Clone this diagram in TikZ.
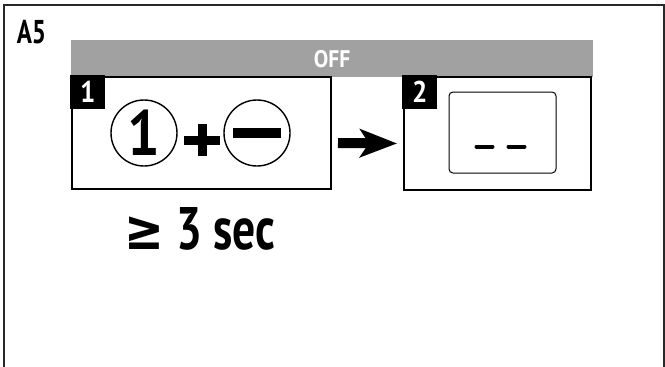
\documentclass[tikz,border=0pt]{standalone}
\usepackage{fontspec}
\setmainfont{PT Sans}
\newfontfamily\condfont[FakeStretch=0.76]{PT Sans}
\newfontfamily\labelfont[FakeStretch=0.9]{PT Sans}
\newfontfamily\symfont[FakeStretch=0.85]{DejaVu Sans}
\usetikzlibrary{arrows.meta,positioning}
\definecolor{bandgray}{RGB}{161,161,161}
\definecolor{framegray}{RGB}{40,40,40}
\tikzset{
  stepbox/.style={draw=black, line width=2pt, inner sep=0pt},
  steptag/.style={fill=black, text=white, inner sep=0pt, minimum width=35pt, minimum height=34pt, font=\labelfont\bfseries\fontsize{30}{30}\selectfont},
  keyring/.style={draw=black, circle, line width=1.4pt, minimum size=66pt, inner sep=0pt},
  bigarrow/.style={line width=10pt, -{Stealth[length=37pt, width=28pt, inset=9pt]}}
}
\begin{document}
\begin{tikzpicture}[x=1pt, y=-1pt]
  \useasboundingbox (0,0) rectangle (665,367);
  \draw[framegray, line width=1.3pt] (4,367) -- (4,5) -- (664,5) -- (664,367);
  \node[font=\condfont\bfseries\fontsize{33}{33}\selectfont] (title) at (31.5,32) {A5};
  % grey band
  \node[fill=bandgray, text=white, anchor=north west, minimum width=522pt, minimum height=37pt, inner sep=0pt, font=\labelfont\bfseries\fontsize{24}{24}\selectfont] (offbar) at (71,40) {OFF};
  % step 1
  \node[stepbox, minimum width=259pt, minimum height=112pt] (step1) at (201.5,133) {};
  \node[steptag, anchor=north west] (tag1) at ([xshift=-1pt,yshift=1pt]step1.north west) {1};
  \node[keyring, font=\labelfont\bfseries\fontsize{64}{64}\selectfont] (keyone) at (144,133) {\raisebox{-2pt}{1}};
  \node[keyring] (keyminus) at (257,133) {};
  \draw[line width=10pt] ([xshift=-24pt]keyminus.center) -- ([xshift=24pt]keyminus.center);
  \coordinate (plus) at (202,140);
  \draw[line width=9pt] ([xshift=-18pt]plus) -- ([xshift=18pt]plus);
  \draw[line width=9pt] ([yshift=-16pt]plus) -- ([yshift=16pt]plus);
  % step 2
  \node[stepbox, minimum width=187pt, minimum height=113pt] (step2) at (497.5,133.5) {};
  \node[steptag, anchor=north west] (tag2) at ([xshift=-1pt,yshift=1pt]step2.north west) {2};
  \node[draw=black, line width=1pt, rounded corners=4pt, minimum width=107pt, minimum height=81pt] (display) at (502.5,132.5) {};
  \draw[line width=4pt, line cap=round] ([xshift=-26pt,yshift=-14pt]display.center) -- ([xshift=-10pt,yshift=-14pt]display.center);
  \draw[line width=4pt, line cap=round] ([xshift=6pt,yshift=-14pt]display.center) -- ([xshift=22pt,yshift=-14pt]display.center);
  \draw[bigarrow, shorten <=6pt, shorten >=6pt] ([yshift=-10pt]step1.east) -- ([yshift=-10pt]step2.west);
  \node[font=\condfont\bfseries\fontsize{60}{60}\selectfont] (holdtime) at (200,229) {{\symfont\bfseries\fontsize{56}{56}\selectfont ≥} 3 sec};
\end{tikzpicture}
\end{document}
